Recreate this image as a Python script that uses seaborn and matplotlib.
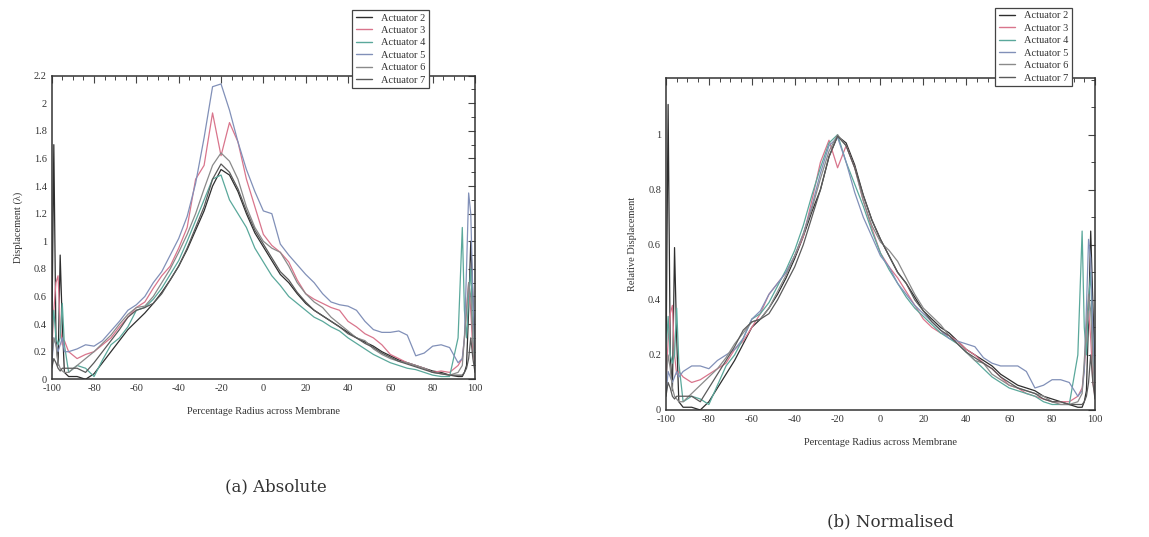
import numpy as np
import pandas as pd
import matplotlib
matplotlib.use("Agg")
import matplotlib.pyplot as plt
from matplotlib.ticker import MultipleLocator
from matplotlib.lines import Line2D
import seaborn as sns

# ---------------- data ----------------
x = [-100, -99, -98, -97, -96, -95, -94,
     -92, -88, -84, -80, -76, -72, -68, -64, -60, -56, -52, -48, -44, -40, -36, -32, -28, -24,
     -20, -16, -12, -8, -4, 0, 4, 8, 12, 16, 20, 24, 28, 32, 36, 40, 44, 48, 52, 56, 60, 64,
     68, 72, 76, 80, 84, 88, 92,
     94, 95, 96, 97, 98, 99, 100]

actuators = ["Actuator 2", "Actuator 3", "Actuator 4", "Actuator 5", "Actuator 6", "Actuator 7"]

# Absolute displacement (lambda)
abs_act2 = [0.2, 1.7, 0.3, 0.1, 0.9, 0.4, 0.05,
            0.02, 0.02, 0.0, 0.04, 0.12, 0.2, 0.28, 0.36, 0.42, 0.48, 0.55, 0.63, 0.72, 0.82, 0.94, 1.08, 1.22, 1.4,
            1.52, 1.48, 1.36, 1.2, 1.06, 0.96, 0.86, 0.76, 0.7, 0.62, 0.55, 0.5, 0.46, 0.42, 0.38, 0.34, 0.3, 0.27, 0.24, 0.2, 0.17, 0.14,
            0.12, 0.1, 0.08, 0.06, 0.05, 0.03, 0.02,
            0.02, 0.05, 0.1, 0.5, 1.0, 0.6, 0.2]
abs_act3 = [0.2, 0.5, 0.7, 0.75, 0.4, 0.25, 0.28,
            0.2, 0.15, 0.18, 0.2, 0.25, 0.3, 0.38, 0.45, 0.52, 0.56, 0.66, 0.75, 0.82, 0.95, 1.1, 1.45, 1.55, 1.93,
            1.62, 1.86, 1.72, 1.45, 1.25, 1.05, 0.97, 0.92, 0.85, 0.72, 0.62, 0.58, 0.55, 0.52, 0.5, 0.42, 0.38, 0.33, 0.3, 0.25, 0.18, 0.15,
            0.12, 0.1, 0.08, 0.05, 0.06, 0.05, 0.1,
            0.15, 0.3, 0.5, 0.7, 0.5, 0.2, 0.1]
abs_act4 = [0.3, 0.5, 0.3, 0.25, 0.3, 0.55, 0.25,
            0.05, 0.1, 0.08, 0.02, 0.14, 0.25, 0.3, 0.38, 0.5, 0.52, 0.58, 0.66, 0.76, 0.86, 1.0, 1.15, 1.3, 1.45,
            1.48, 1.3, 1.2, 1.1, 0.95, 0.85, 0.75, 0.68, 0.6, 0.55, 0.5, 0.45, 0.42, 0.38, 0.35, 0.3, 0.26, 0.22, 0.18, 0.15, 0.12, 0.1,
            0.08, 0.07, 0.05, 0.03, 0.02, 0.02, 0.3,
            1.1, 0.5, 0.3, 0.6, 0.8, 0.3, 0.1]
abs_act5 = [0.1, 0.3, 0.25, 0.2, 0.25, 0.3, 0.2,
            0.2, 0.22, 0.25, 0.24, 0.28, 0.35, 0.42, 0.5, 0.54, 0.6, 0.7, 0.78, 0.9, 1.02, 1.18, 1.42, 1.75, 2.12,
            2.14, 1.95, 1.72, 1.52, 1.36, 1.22, 1.2, 0.98, 0.9, 0.83, 0.76, 0.7, 0.62, 0.56, 0.54, 0.53, 0.5, 0.42, 0.36, 0.34, 0.34, 0.35,
            0.32, 0.17, 0.19, 0.24, 0.25, 0.23, 0.12,
            0.15, 0.3, 0.8, 1.35, 1.2, 0.6, 0.2]
abs_act6 = [0.15, 0.3, 0.25, 0.12, 0.08, 0.06, 0.05,
            0.05, 0.1, 0.15, 0.2, 0.26, 0.32, 0.4, 0.47, 0.52, 0.53, 0.6, 0.7, 0.8, 0.92, 1.05, 1.2, 1.38, 1.55,
            1.64, 1.58, 1.45, 1.25, 1.1, 1.0, 0.95, 0.92, 0.82, 0.7, 0.62, 0.56, 0.52, 0.45, 0.4, 0.35, 0.3, 0.28, 0.22, 0.18, 0.15, 0.13,
            0.12, 0.1, 0.08, 0.05, 0.04, 0.03, 0.05,
            0.1, 0.3, 0.5, 0.7, 0.6, 0.3, 0.1]
abs_act7 = [0.08, 0.15, 0.12, 0.08, 0.06, 0.08, 0.08,
            0.08, 0.08, 0.05, 0.12, 0.2, 0.28, 0.36, 0.45, 0.5, 0.52, 0.55, 0.62, 0.72, 0.82, 0.95, 1.1, 1.25, 1.45,
            1.56, 1.5, 1.38, 1.22, 1.08, 0.98, 0.88, 0.78, 0.72, 0.63, 0.56, 0.5, 0.46, 0.42, 0.38, 0.33, 0.3, 0.26, 0.23, 0.19, 0.16, 0.13,
            0.11, 0.09, 0.07, 0.05, 0.04, 0.03, 0.03,
            0.03, 0.05, 0.08, 0.15, 0.3, 0.15, 0.05]

# Relative (normalised) displacement
rel_act2 = [0.13, 1.11, 0.2, 0.07, 0.59, 0.26, 0.03,
            0.01, 0.01, 0.0, 0.03, 0.08, 0.13, 0.18, 0.24, 0.3, 0.33, 0.37, 0.42, 0.48, 0.55, 0.63, 0.72, 0.8, 0.92,
            0.995, 0.97, 0.89, 0.78, 0.69, 0.62, 0.56, 0.5, 0.46, 0.41, 0.36, 0.33, 0.3, 0.28, 0.25, 0.22, 0.2, 0.18, 0.16, 0.13, 0.11, 0.09,
            0.08, 0.07, 0.05, 0.04, 0.03, 0.02, 0.01,
            0.01, 0.03, 0.07, 0.33, 0.65, 0.39, 0.13]
rel_act3 = [0.1, 0.25, 0.35, 0.38, 0.2, 0.13, 0.14,
            0.12, 0.1, 0.11, 0.13, 0.15, 0.17, 0.22, 0.25, 0.3, 0.35, 0.42, 0.46, 0.5, 0.56, 0.63, 0.76, 0.9, 0.98,
            0.88, 0.96, 0.88, 0.76, 0.66, 0.57, 0.52, 0.48, 0.43, 0.38, 0.33, 0.3, 0.28, 0.27, 0.25, 0.22, 0.2, 0.17, 0.15, 0.12, 0.09, 0.08,
            0.06, 0.05, 0.04, 0.03, 0.03, 0.03, 0.05,
            0.08, 0.15, 0.25, 0.36, 0.26, 0.1, 0.05]
rel_act4 = [0.2, 0.34, 0.2, 0.17, 0.2, 0.37, 0.17,
            0.03, 0.05, 0.04, 0.02, 0.09, 0.16, 0.2, 0.26, 0.33, 0.35, 0.39, 0.45, 0.51, 0.58, 0.67, 0.78, 0.88, 0.97,
            1.0, 0.9, 0.82, 0.74, 0.65, 0.57, 0.51, 0.46, 0.41, 0.37, 0.34, 0.31, 0.28, 0.26, 0.24, 0.21, 0.18, 0.15, 0.12, 0.1, 0.08, 0.07,
            0.06, 0.05, 0.03, 0.02, 0.02, 0.02, 0.2,
            0.65, 0.3, 0.2, 0.4, 0.5, 0.2, 0.07]
rel_act5 = [0.05, 0.14, 0.12, 0.1, 0.12, 0.14, 0.12,
            0.14, 0.16, 0.16, 0.15, 0.18, 0.2, 0.22, 0.26, 0.33, 0.36, 0.42, 0.46, 0.5, 0.56, 0.64, 0.74, 0.86, 0.96,
            0.99, 0.9, 0.79, 0.7, 0.63, 0.56, 0.52, 0.46, 0.42, 0.38, 0.35, 0.32, 0.29, 0.26, 0.25, 0.24, 0.23, 0.19, 0.17, 0.16, 0.16, 0.16,
            0.14, 0.08, 0.09, 0.11, 0.11, 0.1, 0.05,
            0.07, 0.14, 0.37, 0.62, 0.55, 0.28, 0.09]
rel_act6 = [0.1, 0.2, 0.15, 0.08, 0.05, 0.04, 0.03,
            0.03, 0.06, 0.09, 0.12, 0.15, 0.19, 0.24, 0.28, 0.32, 0.33, 0.37, 0.43, 0.49, 0.56, 0.64, 0.73, 0.84, 0.94,
            1.0, 0.96, 0.88, 0.76, 0.67, 0.61, 0.58, 0.54, 0.48, 0.42, 0.37, 0.34, 0.31, 0.27, 0.24, 0.21, 0.18, 0.17, 0.13, 0.11, 0.09, 0.08,
            0.07, 0.06, 0.05, 0.03, 0.02, 0.02, 0.03,
            0.06, 0.18, 0.3, 0.42, 0.36, 0.18, 0.06]
rel_act7 = [0.05, 0.1, 0.08, 0.05, 0.04, 0.05, 0.05,
            0.05, 0.05, 0.03, 0.08, 0.13, 0.18, 0.23, 0.29, 0.32, 0.33, 0.35, 0.4, 0.46, 0.52, 0.6, 0.7, 0.8, 0.92,
            0.995, 0.96, 0.88, 0.78, 0.69, 0.62, 0.56, 0.5, 0.46, 0.4, 0.36, 0.32, 0.29, 0.27, 0.24, 0.21, 0.19, 0.17, 0.15, 0.12, 0.1, 0.08,
            0.07, 0.06, 0.04, 0.03, 0.03, 0.02, 0.02,
            0.02, 0.03, 0.05, 0.1, 0.2, 0.1, 0.04]

abs_series = [abs_act2, abs_act3, abs_act4, abs_act5, abs_act6, abs_act7]
rel_series = [rel_act2, rel_act3, rel_act4, rel_act5, rel_act6, rel_act7]

xticks = [-100, -80, -60, -40, -20, 0, 20, 40, 60, 80, 100]
abs_yticks = [0, 0.2, 0.4, 0.6, 0.8, 1, 1.2, 1.4, 1.6, 1.8, 2, 2.2]
rel_yticks = [0, 0.2, 0.4, 0.6, 0.8, 1]

# ---------------- style ----------------
sns.set_theme(style="white")
plt.rcParams["font.family"] = ["Liberation Serif", "DejaVu Serif"]

palette = {
    "Actuator 2": "#2e2e2e",
    "Actuator 3": "#d9758c",
    "Actuator 4": "#5aa89b",
    "Actuator 5": "#8190b8",
    "Actuator 6": "#8a8a8a",
    "Actuator 7": "#5a5a5a",
}


def long_df(series):
    frames = []
    for name, vals in zip(actuators, series):
        frames.append(pd.DataFrame({"x": x, "y": vals, "Actuator": name}))
    return pd.concat(frames, ignore_index=True)


fig = plt.figure(figsize=(11.49, 5.37), dpi=100)
ax1 = fig.add_axes([0.045, 0.2937, 0.3684, 0.5654])
ax2 = fig.add_axes([0.5796, 0.2365, 0.3734, 0.6182])

for ax, series, ylim, yticks, ylabel in [
    (ax1, abs_series, 2.2, abs_yticks, "Displacement (λ)"),
    (ax2, rel_series, 1.206, rel_yticks, "Relative Displacement"),
]:
    df = long_df(series)
    sns.lineplot(data=df, x="x", y="y", hue="Actuator", palette=palette,
                 estimator=None, sort=False, linewidth=0.9, ax=ax, legend=False)
    ax.set_xlim(-100, 100)
    ax.set_ylim(0, ylim)
    ax.set_xticks(xticks)
    ax.set_xticklabels([str(t) for t in xticks])
    ax.xaxis.set_minor_locator(MultipleLocator(5))
    ax.set_yticks(yticks)
    ax.set_yticklabels(["%g" % v for v in yticks])
    ax.yaxis.set_minor_locator(MultipleLocator(0.1))
    ax.tick_params(which="both", direction="in", top=True, right=True,
                   labelsize=7.5, colors="#444444", labelcolor="#333333")
    ax.tick_params(which="major", length=5, width=0.8)
    ax.tick_params(which="minor", length=3, width=0.7)
    for s in ax.spines.values():
        s.set_color("#333333")
        s.set_linewidth(1.1)
    ax.set_xlabel("Percentage Radius across Membrane", fontsize=7.5, color="#333333", labelpad=10)
    ax.set_ylabel(ylabel, fontsize=7.5, color="#333333", labelpad=8)

# legends
handles = [Line2D([0], [0], color=palette[a], lw=1.0) for a in actuators]
for anchor in [(0.3065, 0.982), (0.866, 0.986)]:
    leg = fig.legend(handles, actuators, loc="upper left", bbox_to_anchor=anchor,
                     fontsize=7.5, frameon=True, fancybox=False, framealpha=1,
                     edgecolor="#444444", handlelength=1.6, handletextpad=0.8,
                     labelspacing=0.3, borderpad=0.35, borderaxespad=0)
    leg.get_frame().set_linewidth(0.9)
    for t in leg.get_texts():
        t.set_color("#333333")

# captions
fig.text(276 / 1149, 1 - 487 / 537, "(a) Absolute", ha="center", va="center",
         fontsize=12, family=["DejaVu Serif"], color="#333333")
fig.text(890 / 1149, 1 - 522 / 537, "(b) Normalised", ha="center", va="center",
         fontsize=12, family=["DejaVu Serif"], color="#333333")

fig.savefig("out.png", dpi=100)
